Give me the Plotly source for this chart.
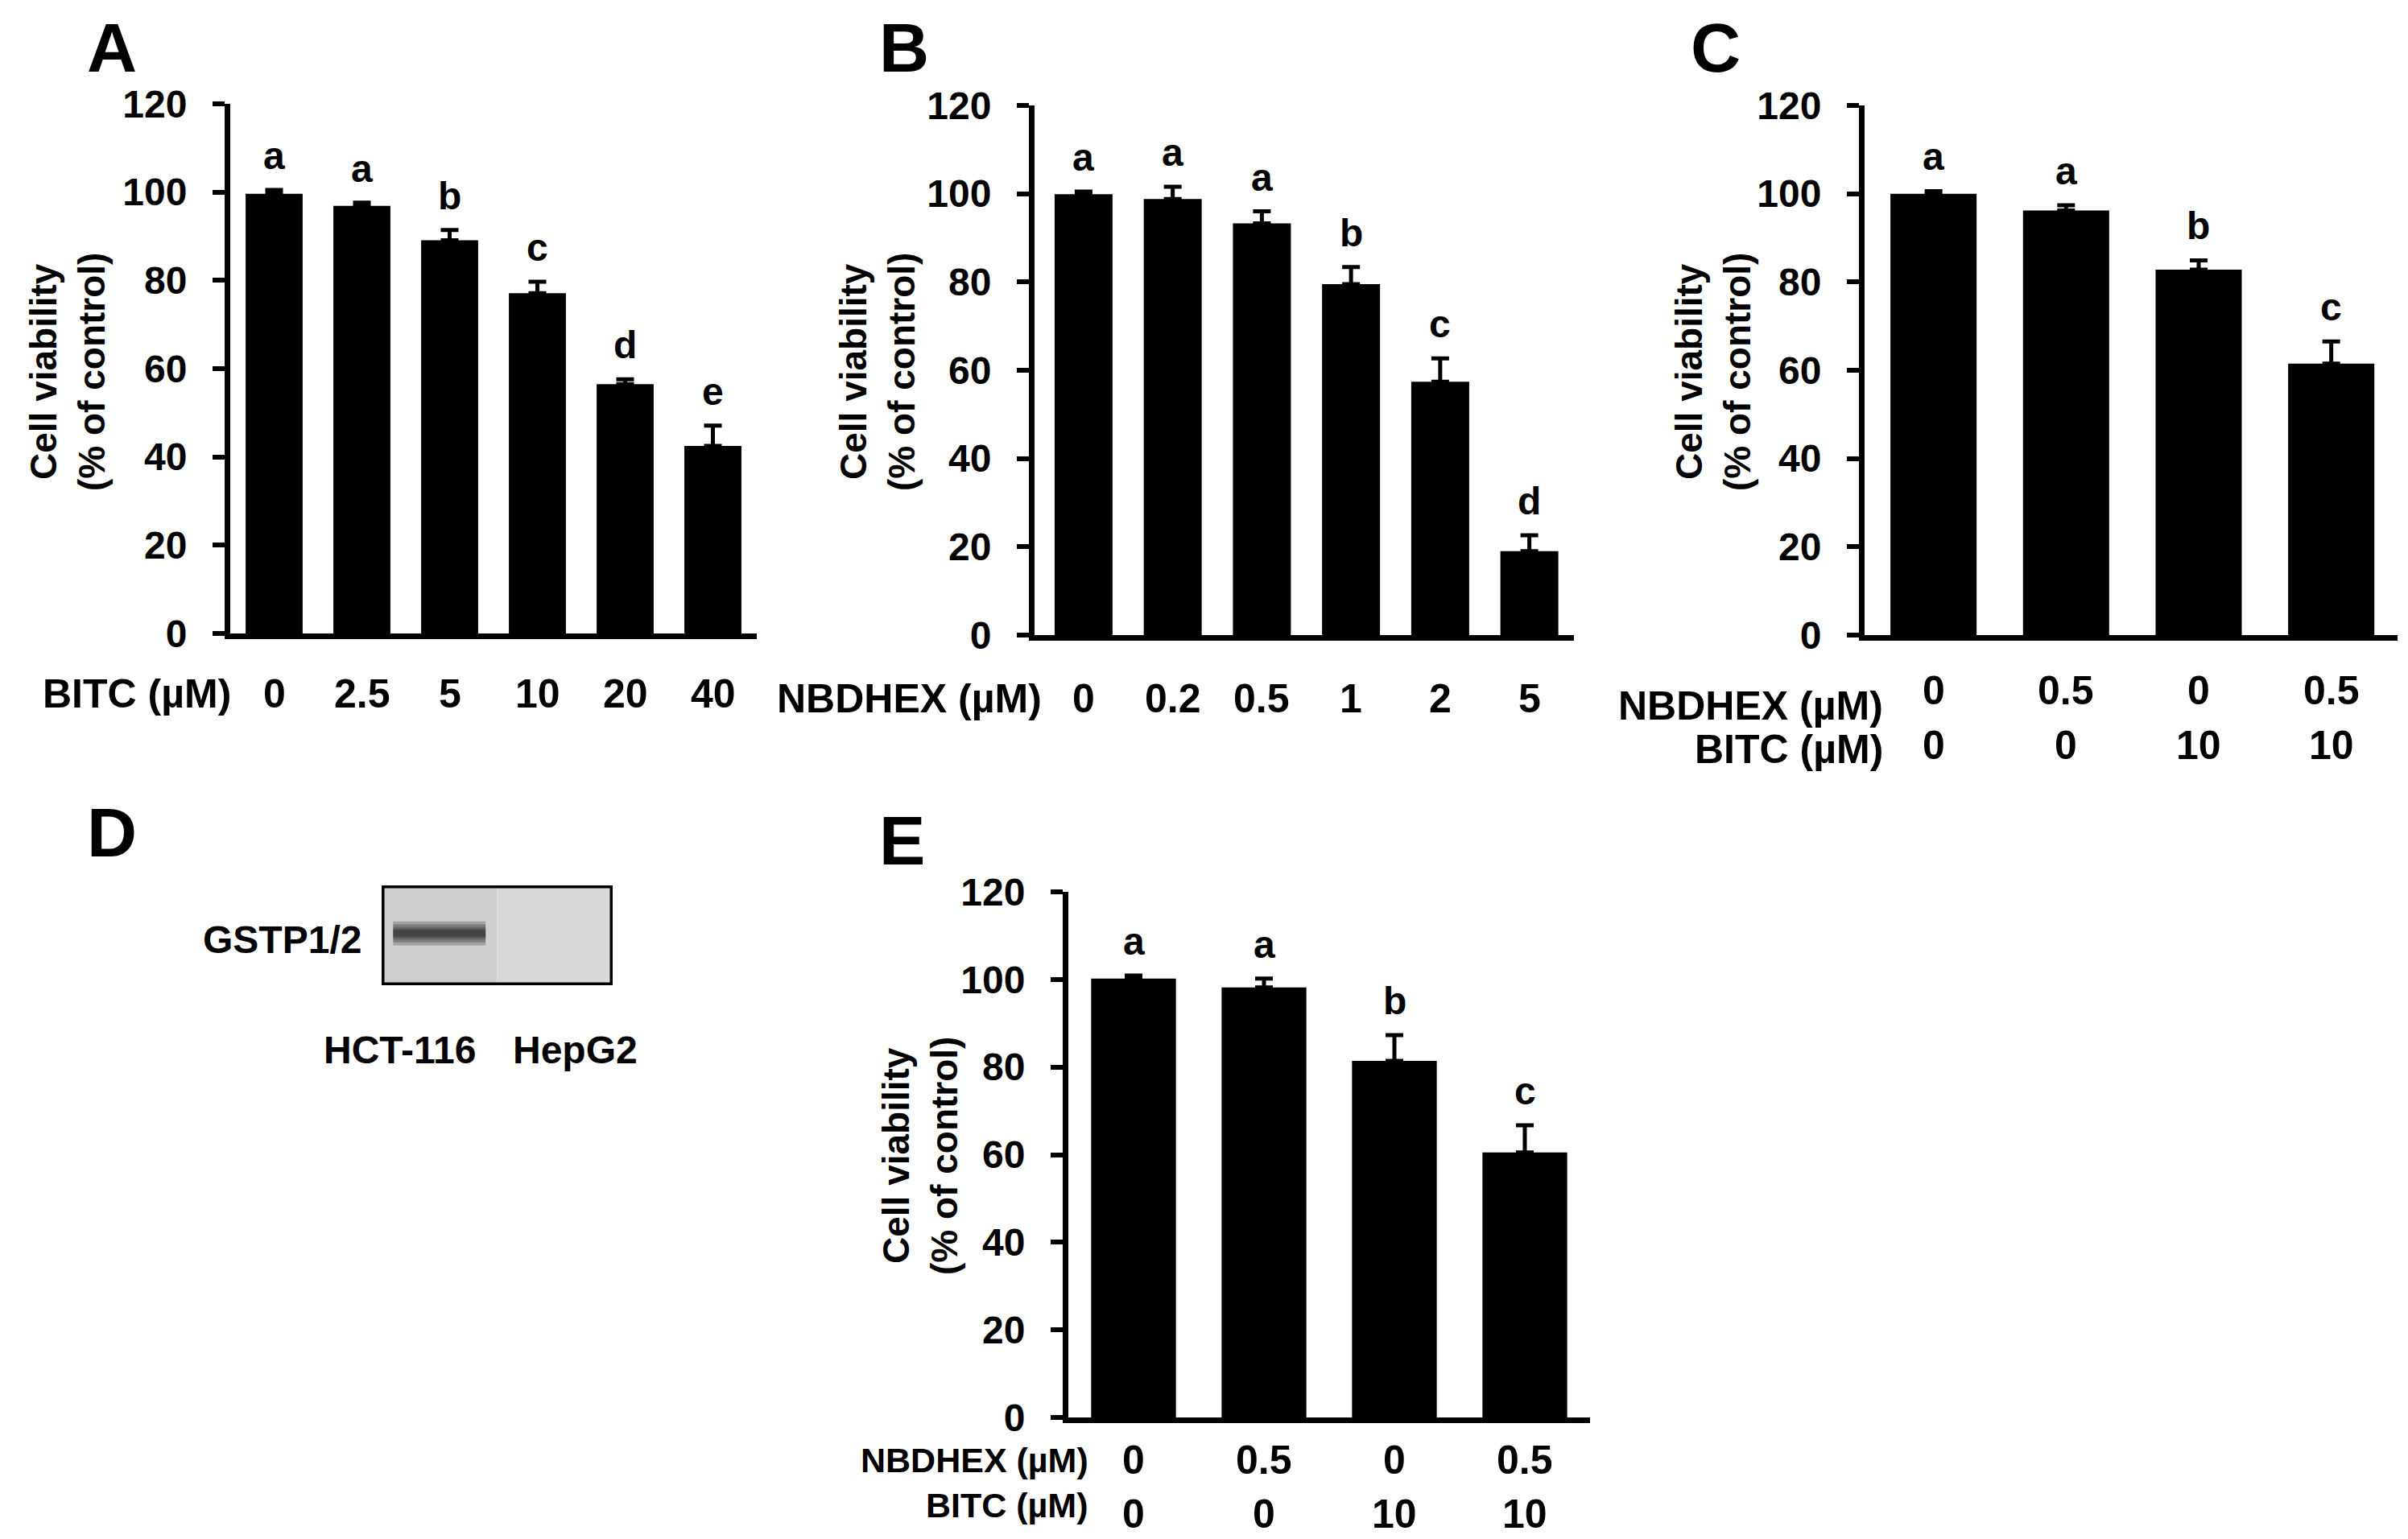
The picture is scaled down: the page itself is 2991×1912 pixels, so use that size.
import plotly.graph_objects as go

W, H = 2991, 1912
OFF_Y = 8  # the page puts the plot a little lower than its own top edge

# panel A: BITC dose response
bitc_doses = ["0", "2.5", "5", "10", "20", "40"]
bitc_viability = [99.6, 96.9, 89.1, 77.1, 56.5, 42.5]
bitc_err = [0.9, 0.7, 2.3, 2.6, 1.1, 4.6]
bitc_letters = ["a", "a", "b", "c", "d", "e"]

# panel B: NBDHEX dose response
nbd_doses = ["0", "0.2", "0.5", "1", "2", "5"]
nbd_viability = [99.9, 98.8, 93.3, 79.5, 57.4, 19.0]
nbd_err = [0.6, 2.8, 2.7, 3.9, 5.3, 3.6]
nbd_letters = ["a", "a", "a", "b", "c", "d"]

# panels C and E: combination
combo_nbd = ["0", "0.5", "0", "0.5"]
combo_bitc = ["0", "0", "10", "10"]
combo_c_viability = [100.0, 96.2, 82.8, 61.5]
combo_c_err = [0.6, 1.2, 2.1, 5.0]
combo_c_letters = ["a", "a", "b", "c"]
combo_e_viability = [100.2, 98.2, 81.4, 60.5]
combo_e_err = [0.7, 2.0, 5.9, 6.2]
combo_e_letters = ["a", "a", "b", "c"]

# panel D: western blot
blot_lanes = ["HCT-116", "HepG2"]
gstp_intensity = [1.0, 0.0]

yticks = [0, 20, 40, 60, 80, 100, 120]
FONT = "Liberation Sans, Arial, sans-serif"


def px(x):
    return x / W


def py(y):
    return 1 - (y - OFF_Y) / H


def bold(size):
    return dict(family=FONT, size=size, color="black", weight="bold")


fig = go.Figure()

# (axis suffix, values, errors, letters, x domain px, y domain px, x range)
panels = [
    ("", bitc_viability, bitc_err, bitc_letters, (278, 932), (787, 129), (-0.5, 5.5)),
    ("2", nbd_viability, nbd_err, nbd_letters, (1277, 1947), (789, 131), (-0.55, 5.5)),
    ("3", combo_c_viability, combo_c_err, combo_c_letters, (2308, 2970), (789, 131), (-0.52, 3.5)),
    ("4", combo_e_viability, combo_e_err, combo_e_letters, (1319, 1967), (1761, 1108), (-0.5, 3.5)),
]

annotations = []
layout_axes = {}
for sfx, vals, errs, lets, xd, yd, xr in panels:
    xs = list(range(len(vals)))
    fig.add_trace(go.Bar(
        x=xs, y=vals, width=0.65,
        marker=dict(color="black", line=dict(width=0)),
        error_y=dict(type="data", array=errs, symmetric=False,
                     arrayminus=[0] * len(vals), color="black",
                     thickness=5, width=11),
        xaxis="x" + sfx, yaxis="y" + sfx, showlegend=False,
    ))
    layout_axes["xaxis" + sfx] = dict(
        domain=[px(xd[0]), px(xd[1])], range=list(xr), anchor="y" + sfx,
        showgrid=False, zeroline=False, showline=True, linecolor="black",
        linewidth=7, ticks="", showticklabels=False, fixedrange=True,
        automargin=False,
    )
    layout_axes["yaxis" + sfx] = dict(
        domain=[py(yd[0]), py(yd[1])], range=[0, 120], anchor="x" + sfx,
        showgrid=False, zeroline=False, showline=True, linecolor="black",
        linewidth=7, ticks="outside", ticklen=15, tickwidth=6, tickcolor="black",
        tickvals=yticks, ticklabelstandoff=22, automargin=False,
        tickfont=bold(48),
    )
    for i, (v, e, l) in enumerate(zip(vals, errs, lets)):
        annotations.append(dict(
            x=i, y=v + e, xref="x" + sfx, yref="y" + sfx, text=l,
            showarrow=False, yanchor="bottom", yshift=14, font=bold(48),
        ))

# y titles
for xc, yc in [(76, 462), (1082, 462), (2120, 462), (1135, 1436)]:
    annotations.append(dict(
        x=px(xc), y=py(yc), xref="paper", yref="paper",
        text="Cell viability<br>(% of control)", textangle=-90,
        showarrow=False, xanchor="center", yanchor="middle", font=bold(46),
    ))

# panel letters (top of text box given, so nothing sticks out of the page)
for letter, xc, ytop in [("A", 131, 9), ("B", 1115, 9), ("C", 2123, 9),
                         ("D", 131, 984), ("E", 1112, 994)]:
    annotations.append(dict(
        x=px(xc), y=py(ytop), xref="paper", yref="paper", text=letter,
        showarrow=False, xanchor="center", yanchor="top", font=bold(86),
    ))

# category labels A, B
for sfx, cats, name, yc, right in [("", bitc_doses, "BITC (µM)", 862, 281),
                                   ("2", nbd_doses, "NBDHEX (µM)", 868, 1288)]:
    for i, c in enumerate(cats):
        annotations.append(dict(
            x=i, y=py(yc), xref="x" + sfx, yref="paper", text=c,
            showarrow=False, xanchor="center", yanchor="middle", font=bold(50),
        ))
    annotations.append(dict(
        x=px(right), y=py(yc), xref="paper", yref="paper", text=name,
        showarrow=False, xanchor="right", yanchor="middle", font=bold(50),
    ))

# category labels C, E (two rows)
for sfx, rows, right, fsize in [
    ("3", [(combo_nbd, "NBDHEX (µM)", 858, 877), (combo_bitc, "BITC (µM)", 926, 931)], 2333, 50),
    ("4", [(combo_nbd, "NBDHEX (µM)", 1814, 1814), (combo_bitc, "BITC (µM)", 1881, 1870)], 1346, 43),
]:
    for cats, name, yv, yn in rows:
        for i, c in enumerate(cats):
            annotations.append(dict(
                x=i, y=py(yv), xref="x" + sfx, yref="paper", text=c,
                showarrow=False, xanchor="center", yanchor="middle", font=bold(50),
            ))
        annotations.append(dict(
            x=px(right), y=py(yn), xref="paper", yref="paper", text=name,
            showarrow=False, xanchor="right", yanchor="middle", font=bold(fsize),
        ))

# panel D blot: soft band built from stacked translucent layers
for h in [0.24, 0.18, 0.13, 0.09, 0.06]:
    fig.add_trace(go.Bar(
        x=[0.5, 1.5], y=[h, h], base=[0.52 - h / 2, 0.52 - h / 2], width=0.8,
        marker=dict(color=[f"rgba(20,20,20,{0.24 * g})" for g in gstp_intensity],
                    line=dict(width=0)),
        xaxis="x5", yaxis="y5", showlegend=False, hoverinfo="skip",
    ))
layout_axes["xaxis5"] = dict(domain=[px(466), px(753)], range=[0, 2],
                             anchor="y5", visible=False, automargin=False)
layout_axes["yaxis5"] = dict(domain=[py(1224), py(1100)], range=[0, 1],
                             anchor="x5", visible=False, automargin=False)
shapes = [
    dict(type="rect", xref="x5", yref="y5", x0=0, x1=1, y0=0, y1=1,
         fillcolor="#cfcfcf", line=dict(width=0), layer="below"),
    dict(type="rect", xref="x5", yref="y5", x0=1, x1=2, y0=0, y1=1,
         fillcolor="#d8d8d8", line=dict(width=0), layer="below"),
    dict(type="rect", xref="x5", yref="y5", x0=0, x1=2, y0=0, y1=1,
         fillcolor="rgba(0,0,0,0)", line=dict(color="black", width=7)),
]
annotations.append(dict(
    x=px(443), y=py(1167), xref="paper", yref="paper", text="GSTP1/2",
    showarrow=False, xanchor="right", yanchor="middle", font=bold(48),
))
for lane, xc in zip(blot_lanes, [488, 706]):
    annotations.append(dict(
        x=px(xc), y=py(1304), xref="paper", yref="paper", text=lane,
        showarrow=False, xanchor="center", yanchor="middle", font=bold(48),
    ))

fig.update_layout(
    width=W, height=H,
    margin=dict(l=0, r=0, t=0, b=0, pad=0, autoexpand=False),
    paper_bgcolor="white", plot_bgcolor="white", barmode="overlay",
    annotations=annotations, shapes=shapes, showlegend=False,
    font=dict(family=FONT, color="black"),
    **layout_axes,
)

fig.write_html("out.html")
